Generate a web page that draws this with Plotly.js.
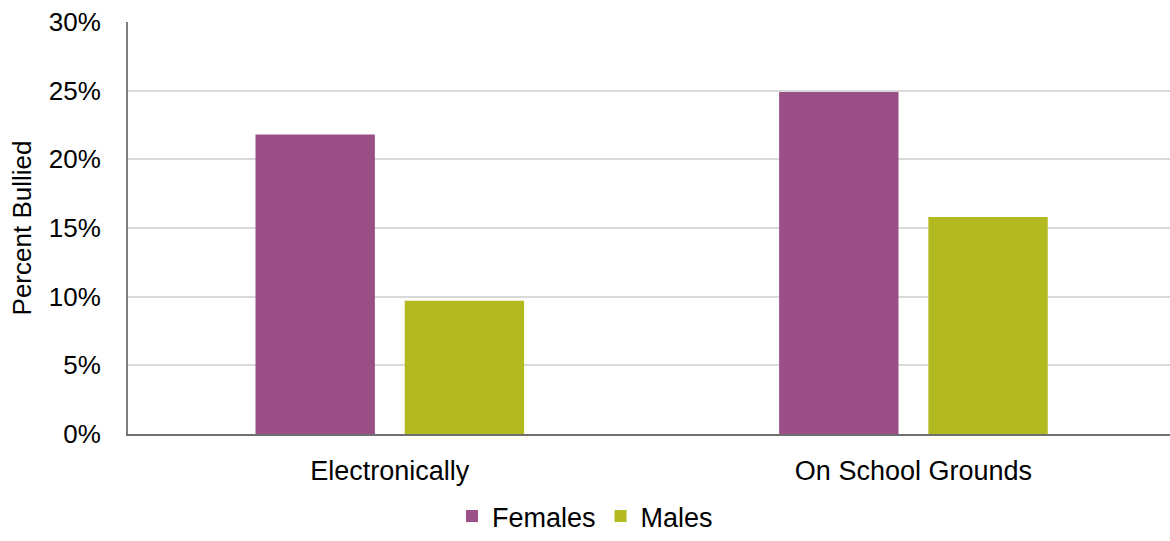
<!DOCTYPE html>
<html><head><meta charset="utf-8">
<script src="https://cdn.plot.ly/plotly-3.0.1.min.js"></script>
<style>html,body{margin:0;padding:0;background:#fff}#chart{width:1170px;height:541px}</style>
</head><body><div id="chart"></div>
<script>
const categories = ["Electronically", "On School Grounds"];
const females = [0.218, 0.249];
const males = [0.097, 0.158];
const yTicks = [0, 0.05, 0.10, 0.15, 0.20, 0.25, 0.30];

const traces = [
  {type:'bar', name:'Females', x:categories, y:females, marker:{color:'#9a4f87'}, hoverinfo:'y'},
  {type:'bar', name:'Males', x:categories, y:males, marker:{color:'#b3ba1f'}, hoverinfo:'y'}
];
const layout = {
  width:1170, height:541,
  margin:{l:128, r:0, t:22, b:107},
  barmode:'group', bargap:0.43, bargroupgap:0.2,
  paper_bgcolor:'#fff', plot_bgcolor:'#fff',
  font:{family:'Liberation Sans, Arial, sans-serif', color:'#000', size:26},
  xaxis:{range:[-0.5, 1.49], showline:true, linecolor:'#6f6f6f', linewidth:2, ticks:'', tickfont:{size:27}, showgrid:false, ticklabelstandoff:12, automargin:false},
  yaxis:{range:[0,0.30], tickvals:yTicks, tickformat:'.0%', showline:true, linecolor:'#7f7f7f', linewidth:2,
         gridcolor:'#d9d9d9', gridwidth:2, zeroline:false, tickfont:{size:26}, ticks:'', ticklabelstandoff:20, automargin:false,
         title:{text:'Percent Bullied', font:{size:26}, standoff:10}},
  legend:{orientation:'h', x:0.5, xref:'container', xanchor:'center', y:0, yref:'container', yanchor:'bottom', font:{size:27}, traceorder:'normal', tracegroupgap:0},
  showlegend:true
};
Plotly.newPlot('chart', traces, layout, {displayModeBar:false, staticPlot:true});
</script></body></html>
